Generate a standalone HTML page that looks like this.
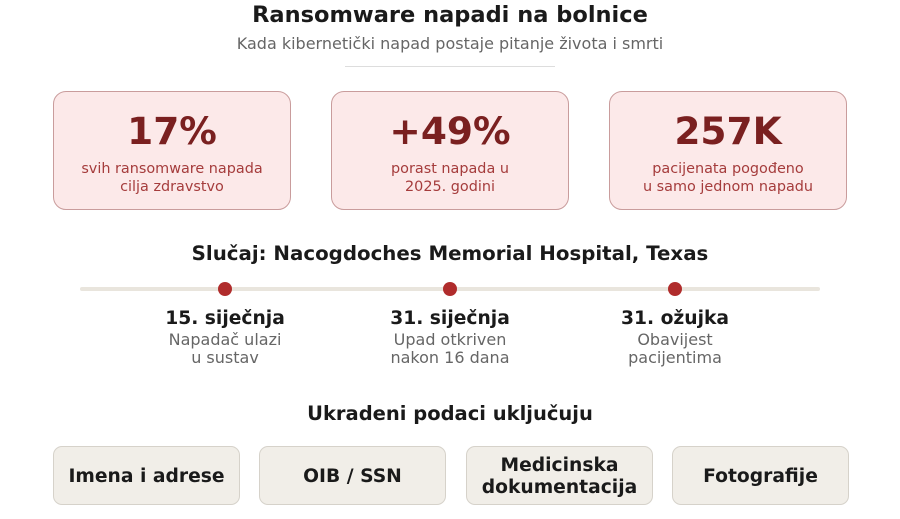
<!DOCTYPE html>
<html><head><meta charset="utf-8"><style>
body{margin:0;width:900px;height:519px;background:#fff;font-family:"DejaVu Sans","Liberation Sans",sans-serif;position:relative;overflow:hidden}
.a{position:absolute;text-align:center;white-space:nowrap}
.card{position:absolute;top:91px;width:236px;height:117px;background:#fce9e9;border:1px solid #c99c9c;border-radius:13px;box-sizing:content-box}
.num{position:absolute;left:0;right:0;top:16px;text-align:center;font-size:37.5px;font-weight:bold;color:#7a2020;line-height:46px}
.sub{position:absolute;left:0;right:0;top:68px;text-align:center;font-size:14.4px;line-height:18px;color:#a53c3c;white-space:nowrap}
.dot{position:absolute;top:282px;width:14px;height:14px;border-radius:50%;background:#b02c2c}
.d{position:absolute;width:220px;text-align:center;top:308px;white-space:nowrap}
.d b{display:block;font-size:18.7px;color:#1a1a1a;line-height:22px}
.d span{display:block;font-size:16px;color:#666;line-height:18px;position:relative;top:1px}
.chip{position:absolute;top:446px;height:57px;background:#f1eee8;border:1px solid #d6d2ca;border-radius:9px;display:flex;align-items:center;justify-content:center;text-align:center;font-weight:bold;font-size:18.7px;line-height:22px;color:#1a1a1a;padding-top:2px;box-sizing:border-box;height:59px}
</style></head><body>
<div class="a" style="left:0;right:0;top:2px;font-size:22.5px;font-weight:bold;color:#1a1a1a">Ransomware napadi na bolnice</div>
<div class="a" style="left:0;right:0;top:34px;font-size:16px;color:#666">Kada kibernetički napad postaje pitanje života i smrti</div>
<div style="position:absolute;left:345px;width:210px;top:66px;height:1px;background:#ddd"></div>
<div class="card" style="left:53px"><div class="num">17%</div><div class="sub">svih ransomware napada<br>cilja zdravstvo</div></div>
<div class="card" style="left:331px"><div class="num">+49%</div><div class="sub">porast napada u<br>2025. godini</div></div>
<div class="card" style="left:609px"><div class="num">257K</div><div class="sub">pacijenata pogođeno<br>u samo jednom napadu</div></div>
<div class="a" style="left:0;right:0;top:242px;font-size:19.8px;font-weight:bold;color:#1a1a1a">Slučaj: Nacogdoches Memorial Hospital, Texas</div>
<div style="position:absolute;left:80px;width:740px;top:287px;height:4px;border-radius:2px;background:#e9e5dd"></div>
<div class="dot" style="left:218px"></div><div class="dot" style="left:443px"></div><div class="dot" style="left:668px"></div>
<div class="d" style="left:115px"><b>15. siječnja</b><span>Napadač ulazi</span><span>u sustav</span></div>
<div class="d" style="left:340px"><b>31. siječnja</b><span>Upad otkriven</span><span>nakon 16 dana</span></div>
<div class="d" style="left:565px"><b>31. ožujka</b><span>Obavijest</span><span>pacijentima</span></div>
<div class="a" style="left:0;right:0;top:402px;font-size:19.5px;font-weight:bold;color:#1a1a1a">Ukradeni podaci uključuju</div>
<div class="chip" style="left:53px;width:187px">Imena i adrese</div>
<div class="chip" style="left:259px;width:187px">OIB / SSN</div>
<div class="chip" style="left:466px;width:187px">Medicinska<br>dokumentacija</div>
<div class="chip" style="left:672px;width:177px">Fotografije</div>
</body></html>
